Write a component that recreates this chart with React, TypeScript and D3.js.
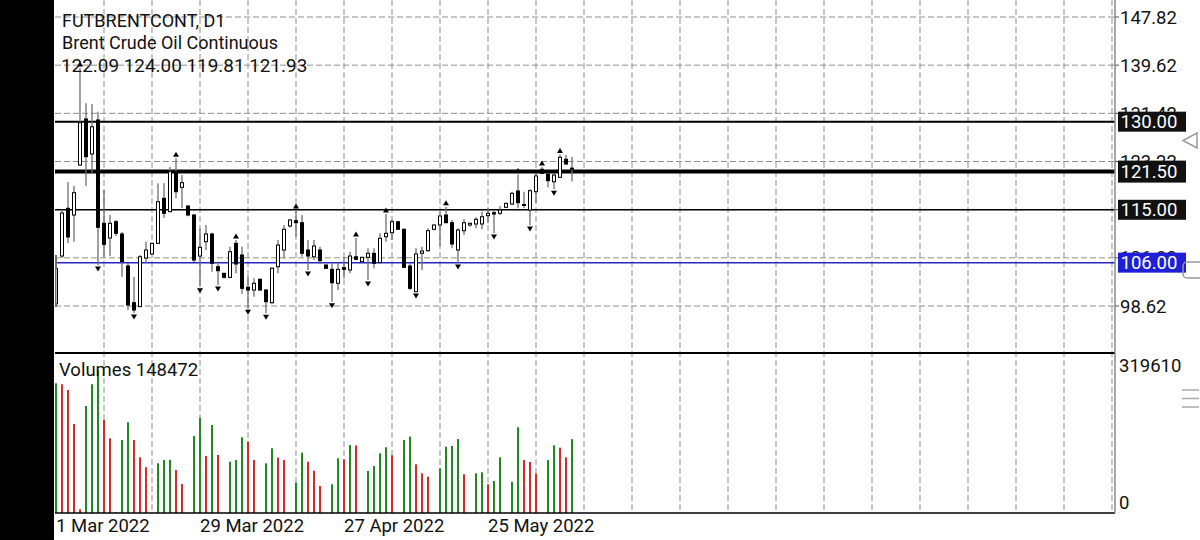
import React from 'react';
import * as d3 from 'd3';

// ---- data ----
const opens = [99.0, 107.13, 115.25, 114.11, 122.62, 130.46, 124.5, 130.29, 112.7, 110.2,
  112.97, 110.88, 105.43, 99.18, 98.5, 106.79, 107.47, 109.29, 116.95, 114.67,
  121.48, 118.82, 115.64, 114.11, 107.13, 109.57, 110.88, 105.31, 104.18, 103.5,
  109.29, 107.3, 101.8, 101.34, 103.17, 101.34, 99.18, 105.31, 108.15, 112.24,
  113.14, 112.8, 108.15, 107.0, 108.15, 105.6, 104.86, 102.49, 105.14, 104.75,
  107.0, 106.16, 106.91, 107.59, 106.0, 110.42, 111.1, 112.97, 111.68, 105.43,
  101.05, 107.59, 108.03, 111.68, 112.41, 114.11, 112.8, 108.15, 111.44, 112.41,
  112.58, 112.58, 114.0, 114.5, 114.4, 115.42, 115.98, 118.2, 115.9, 114.96,
  118.08, 121.89, 121.09, 119.78, 120.53, 123.6, 122.09];
const highs = [107.3, 115.0, 119.73, 119.05, 139.13, 133.13, 133.01, 131.7, 118.37, 114.11,
  113.26, 111.22, 105.94, 103.61, 107.3, 109.57, 109.4, 119.51, 119.5, 122.28,
  123.77, 120.92, 115.8, 114.3, 111.85, 112.41, 111.1, 106.16, 104.3, 108.72,
  109.86, 108.72, 103.73, 103.34, 103.3, 101.5, 105.2, 109.86, 112.41, 113.4,
  114.96, 114.11, 109.86, 109.86, 108.7, 105.7, 105.89, 106.0, 107.0, 107.86,
  110.2, 107.0, 108.44, 108.44, 111.0, 114.28, 113.38, 113.0, 111.8, 105.89,
  108.44, 108.72, 111.85, 112.5, 114.67, 115.53, 113.26, 111.85, 113.38, 112.8,
  113.72, 114.67, 115.25, 114.96, 115.64, 116.2, 118.08, 121.0, 118.08, 118.49,
  121.21, 122.28, 121.31, 121.26, 124.4, 124.32, 124.0];
const lows = [98.45, 106.8, 109.35, 109.57, 122.5, 119.05, 121.31, 105.6, 107.0, 107.13,
  110.54, 103.61, 97.94, 97.43, 98.45, 105.94, 107.3, 109.17, 113.6, 114.62,
  116.95, 115.25, 113.9, 106.1, 101.91, 108.15, 104.46, 102.2, 103.3, 103.34,
  104.18, 100.66, 98.23, 100.2, 101.2, 97.38, 99.0, 104.18, 106.74, 112.0,
  110.42, 107.0, 104.75, 106.45, 105.77, 104.9, 99.35, 101.34, 103.34, 104.18,
  106.4, 106.0, 103.05, 105.04, 105.94, 109.57, 109.86, 111.6, 105.04, 101.34,
  101.0, 104.75, 107.86, 111.5, 108.83, 112.7, 108.44, 105.94, 110.71, 112.1,
  111.85, 111.68, 112.7, 111.05, 114.11, 115.3, 115.82, 115.25, 115.25, 112.41,
  116.21, 121.09, 118.83, 118.5, 120.4, 122.62, 119.81];
const closes = [105.0, 114.45, 110.37, 117.91, 129.82, 124.04, 129.14, 112.02, 109.12, 112.7,
  111.0, 106.16, 98.79, 97.94, 107.0, 108.15, 109.29, 116.38, 114.4, 121.48,
  118.08, 119.61, 114.11, 106.45, 108.61, 110.88, 105.89, 104.63, 103.5, 107.86,
  105.77, 101.63, 101.34, 102.49, 101.34, 99.35, 105.04, 109.0, 111.68, 113.26,
  112.8, 107.59, 107.13, 108.83, 106.33, 105.04, 102.58, 104.86, 104.86, 107.13,
  106.57, 106.91, 107.59, 105.89, 110.15, 111.0, 112.97, 111.68, 105.21, 101.63,
  107.47, 107.98, 111.44, 112.41, 113.94, 112.8, 109.17, 111.56, 112.8, 112.7,
  113.38, 113.82, 114.4, 114.28, 114.96, 116.1, 117.8, 116.21, 115.8, 118.25,
  120.75, 121.21, 119.95, 120.92, 123.94, 122.8, 121.93];
const volumes = [260700, 258700, 247200, 178900, 7400, 215100, 258900, 287400, 186900, 150100,
  1400, 146700, 182300, 146700, 112000, 91900, 300, 99900, 106500, 107000,
  86400, 58300, 300, 154800, 191600, 114600, 176900, 116600, 300, 103100,
  106500, 152200, 143300, 106500, 300, 99900, 130100, 111200, 106500, 300,
  60900, 121200, 103100, 85000, 54300, 300, 57700, 110000, 107900, 136700,
  135700, 300, 84400, 94500, 120000, 132100, 116000, 300, 146700, 153400,
  97900, 79800, 73000, 300, 89900, 133300, 134700, 148700, 77800, 300,
  79800, 81800, 57700, 64300, 112000, 300, 62900, 172300, 106500, 102500,
  79000, 300, 106500, 136100, 131300, 112000, 148472];
const upFractals = [4, 20, 30, 40, 50, 55, 65, 77, 81, 84];
const downFractals = [7, 13, 24, 27, 32, 35, 42, 46, 52, 60, 67, 73, 79, 83];
const priceTicks = [147.82, 139.62, 131.42, 123.22, 115.02, 106.82, 98.62];
const levelValues = [130.0, 121.5, 115.0, 106.0];
const dateIndex = [0, 24, 48, 72];
const dateText = ['1 Mar 2022', '29 Mar 2022', '27 Apr 2022', '25 May 2022'];
const volumeMax = 319610;
const symbolName = 'FUTBRENTCONT, D1';
const symbolDesc = 'Brent Crude Oil Continuous';

const FONT = 'Roboto, "Noto Sans", sans-serif';

export default function App() {
  const W = 1200, H = 540;
  const left = 55, right = 1115, mainBottom = 353, volTop = 354, volBottom = 513;
  const x = d3.scaleLinear().domain([0, 1]).range([56, 62]);
  const y = d3.scaleLinear().domain([98.62, 147.82]).range([306, 17]);
  const yv = d3.scaleLinear().domain([0, volumeMax]).range([volBottom, volTop]);
  const n = opens.length;
  const gridX = d3.range(1, 23).map(k => x(8 * k));
  const fmt = d3.format('.2f');

  const levelStyle = [
    { c: '#000', w: 2, box: '#111', h: 20 },
    { c: '#000', w: 4, box: '#111', h: 22 },
    { c: '#000', w: 1.6, box: '#111', h: 20 },
    { c: '#2626c4', w: 1.5, box: '#1f1fd6', h: 20 },
  ];

  const last = n - 1;
  const ohlcText = `${fmt(opens[last])} ${fmt(highs[last])} ${fmt(lows[last])} ${fmt(closes[last])}`;

  return (
    <svg width={W} height={H} style={{ position: 'fixed', left: 0, top: 0, background: '#fff' }}
      fontFamily={FONT}>
      <defs>
        <clipPath id="mainClip"><rect x={56.5} y={0} width={right - 56.5} height={mainBottom} /></clipPath>
        <clipPath id="volClip"><rect x={left} y={volTop} width={right - left} height={volBottom - volTop} /></clipPath>
      </defs>
      <rect x={0} y={0} width={W} height={H} fill="#fff" />

      {/* grid */}
      {priceTicks.map((p, i) => (
        <line key={'hg' + i} x1={left} x2={right} y1={y(p)} y2={y(p)} stroke="#8f8f8f" strokeWidth={1} strokeDasharray="6,3" />
      ))}
      {gridX.map((gx, i) => (
        <line key={'vg' + i} x1={gx} x2={gx} y1={0} y2={volBottom} stroke="#8f8f8f" strokeWidth={1} strokeDasharray="6,3" />
      ))}

      {/* level lines */}
      {levelValues.map((v, i) => (
        <line key={'lv' + i} x1={left} x2={right} y1={y(v)} y2={y(v)} stroke={levelStyle[i].c} strokeWidth={levelStyle[i].w} />
      ))}

      {/* bar 0 wick at left edge */}
      <line x1={56} x2={56} y1={y(highs[0])} y2={y(lows[0])} stroke="#6e6e6e" strokeWidth={2} />

      {/* candles */}
      <g clipPath="url(#mainClip)">
        {d3.range(n).map(i => {
          const cx = x(i);
          const bull = closes[i] >= opens[i];
          const top = y(Math.max(opens[i], closes[i]));
          const bot = y(Math.min(opens[i], closes[i]));
          return (
            <g key={'c' + i}>
              <line x1={cx} x2={cx} y1={y(highs[i])} y2={y(lows[i])} stroke="#6e6e6e" strokeWidth={1.3} />
              <rect x={cx - 1.5} y={top} width={3} height={Math.max(bot - top, 1)}
                fill={bull ? '#fff' : '#000'} stroke="#000" strokeWidth={1} />
            </g>
          );
        })}
        {upFractals.map(i => {
          const cx = x(i), yb = y(highs[i]) - 1.5;
          return <path key={'uf' + i} d={`M${cx - 3},${yb} L${cx + 3},${yb} L${cx},${yb - 5} Z`} fill="#000" />;
        })}
        {downFractals.map(i => {
          const cx = x(i), yt = y(lows[i]) + 1.5;
          return <path key={'df' + i} d={`M${cx - 3},${yt} L${cx + 3},${yt} L${cx},${yt + 5} Z`} fill="#000" />;
        })}
      </g>

      {/* volumes */}
      <g clipPath="url(#volClip)">
        {volumes.map((v, i) => {
          const up = i === 0 || v > volumes[i - 1];
          return <rect key={'v' + i} x={x(i) - 1} y={yv(v)} width={2} height={volBottom - yv(v)} fill={up ? '#1e8a22' : '#d42a2a'} />;
        })}
      </g>

      {/* pane borders */}
      <line x1={left} x2={right} y1={mainBottom} y2={mainBottom} stroke="#000" strokeWidth={2} />
      <line x1={left} x2={right} y1={volBottom} y2={volBottom} stroke="#000" strokeWidth={1.5} />
      <line x1={right} x2={right} y1={0} y2={volBottom} stroke="#8a8a8a" strokeWidth={1.5} />

      {/* price axis labels */}
      {priceTicks.map((p, i) => (
        <g key={'pl' + i}>
          <line x1={right} x2={right + 4} y1={y(p)} y2={y(p)} stroke="#555" />
          <text x={1120} y={y(p) + 6.5} fontSize={18.5} fill="#111">{fmt(p)}</text>
        </g>
      ))}
      {levelValues.map((v, i) => (
        <g key={'lb' + i}>
          <rect x={1118} y={y(v) - levelStyle[i].h / 2} width={68} height={levelStyle[i].h} fill={levelStyle[i].box} />
          <text x={1120.5} y={y(v) + 6.5} fontSize={18.5} fill="#fff">{fmt(v)}</text>
        </g>
      ))}

      {/* volume axis */}
      <text x={1119} y={372} fontSize={18.5} fill="#111">{volumeMax}</text>
      <text x={1119} y={509} fontSize={18.5} fill="#111">0</text>

      {/* dates */}
      {dateIndex.map((di, i) => (
        <text key={'d' + i} x={x(di)} y={532} fontSize={18.5} fill="#111">{dateText[i]}</text>
      ))}

      {/* header texts */}
      <text x={62} y={27} fontSize={18} fill="#111">{symbolName}</text>
      <text x={62} y={48.5} fontSize={18} fill="#111">{symbolDesc}</text>
      <text x={61} y={71.5} fontSize={18.9} fill="#111">{ohlcText}</text>
      <text x={59} y={376} fontSize={18.5} fill="#111">{`Volumes ${volumes[last]}`}</text>

      {/* UI icons */}
      <path d="M1197,133 L1197,148 L1183,140.5 Z" fill="none" stroke="#999" strokeWidth={1.5} />
      <rect x={1183} y={262} width={22} height={16} rx={4} fill="none" stroke="#999" strokeWidth={1.5} />
      {[390, 398.5, 407].map((yy, i) => (
        <line key={'m' + i} x1={1182} x2={1199} y1={yy} y2={yy} stroke="#aaa" strokeWidth={1.5} />
      ))}

      {/* left black strip */}
      <rect x={0} y={0} width={54} height={H} fill="#000" />
    </svg>
  );
}
